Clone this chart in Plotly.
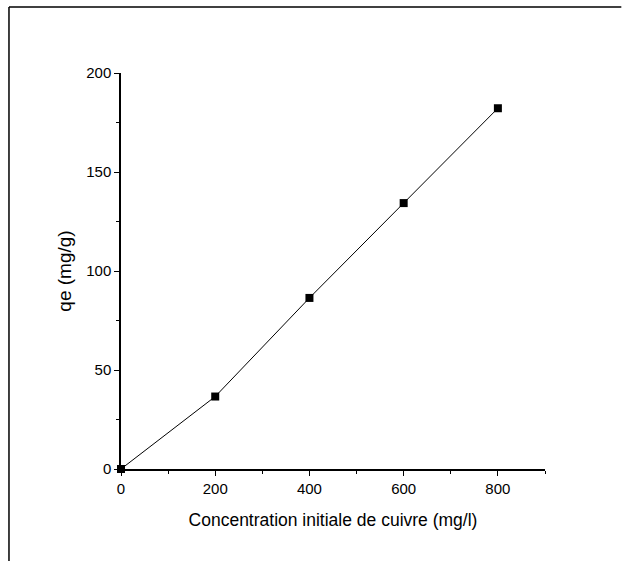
import plotly.graph_objects as go

concentration = [0, 200, 400, 600, 800]
qe = [0, 36.6, 86.4, 134.3, 182.2]

x_title = "Concentration initiale de cuivre (mg/l)"
y_title = "qe (mg/g)"

fig = go.Figure()
fig.add_trace(go.Scatter(
    x=concentration, y=qe, mode="lines+markers",
    line=dict(color="black", width=1),
    marker=dict(symbol="square", size=8, color="black"),
    showlegend=False, cliponaxis=False,
))

font_family = "Liberation Sans, Arial, sans-serif"
fig.update_layout(
    width=622, height=561,
    margin=dict(l=121, r=77, t=73, b=92),
    paper_bgcolor="white", plot_bgcolor="white",
    font=dict(family=font_family, color="black", size=15),
    xaxis=dict(
        range=[0, 900], tickvals=[0, 200, 400, 600, 800],
        ticks="outside", ticklen=5, tickwidth=1, tickcolor="black",
        minor=dict(dtick=100, tick0=0, ticks="outside", ticklen=3, tickcolor="black"),
        showline=True, linecolor="black", linewidth=2,
        showgrid=False, zeroline=False,
        tickfont=dict(size=15),
        title=dict(text=x_title, font=dict(size=17.5), standoff=18),
    ),
    yaxis=dict(
        range=[0, 200], tickvals=[0, 50, 100, 150, 200],
        ticks="outside", ticklen=5, tickwidth=1, tickcolor="black",
        minor=dict(dtick=25, tick0=0, ticks="outside", ticklen=3, tickcolor="black"),
        showline=True, linecolor="black", linewidth=1.5,
        showgrid=False, zeroline=False,
        tickfont=dict(size=15),
        title=dict(text=y_title, font=dict(size=19), standoff=10),
    ),
    shapes=[
        dict(type="line", xref="paper", yref="paper",
             x0=-0.2642, x1=1.18, y0=1.1667, y1=1.1667,
             line=dict(color="black", width=1.5)),
        dict(type="line", xref="paper", yref="paper",
             x0=-0.2642, x1=-0.2642, y0=1.1667, y1=-0.24,
             line=dict(color="black", width=1.5)),
    ],
)

fig.write_html("out.html")
